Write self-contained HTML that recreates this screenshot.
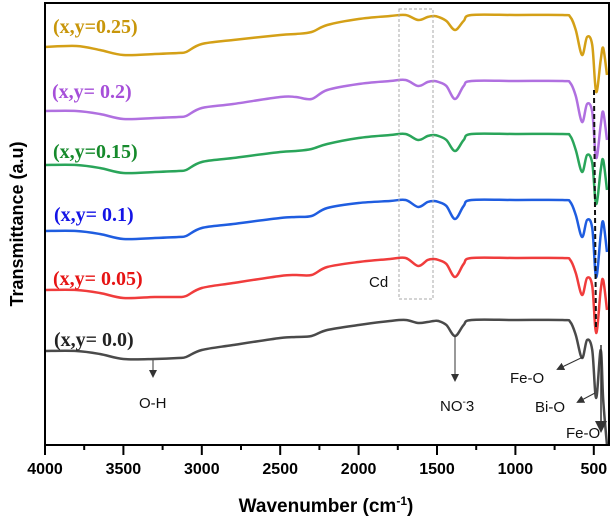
<!DOCTYPE html>
<html><head><meta charset="utf-8"><style>
body{margin:0;background:#fff}
svg{display:block}
</style></head><body>
<svg id="chart" width="611" height="519" xmlns="http://www.w3.org/2000/svg">
<defs><clipPath id="clip"><rect x="45" y="3" width="564" height="442"/></clipPath>
<marker id="ah" markerWidth="8" markerHeight="8" refX="6" refY="4" orient="auto"><path d="M0,0 L8,4 L0,8 z" fill="#333"/></marker></defs>
<g id="series" clip-path="url(#clip)"></g>
<rect x="45" y="3" width="564" height="442" fill="none" stroke="#000" stroke-width="2"/>
<g id="xticks"></g>
<text x="326" y="512" text-anchor="middle" font-family="Liberation Sans, sans-serif" font-weight="bold" font-size="19">Wavenumber (cm<tspan dy="-7" font-size="12">-1</tspan><tspan dy="7">)</tspan></text>
<text transform="translate(23,224) rotate(-90)" text-anchor="middle" font-family="Liberation Sans, sans-serif" font-weight="bold" font-size="18">Transmittance (a.u)</text>
<g font-family="Liberation Serif, serif" font-weight="bold" font-size="20">
<text x="53" y="33" fill="#c8960a">(x,y=0.25)</text>
<text x="52" y="98" fill="#a64fd9">(x,y= 0.2)</text>
<text x="53" y="158" fill="#168a2c">(x,y=0.15)</text>
<text x="54" y="221" fill="#1414e6">(x,y= 0.1)</text>
<text x="53" y="285" fill="#e61414">(x,y= 0.05)</text>
<text x="54" y="346" fill="#222">(x,y= 0.0)</text>
</g>
<rect x="399" y="9" width="34" height="290" fill="none" stroke="#aaa" stroke-dasharray="3,2"/>
<g font-family="Liberation Sans, sans-serif" font-size="15" fill="#111">
<text x="369" y="287">Cd</text>
<line x1="153" y1="360" x2="153" y2="376" stroke="#333" marker-end="url(#ah)"/>
<text x="139" y="408">O-H</text>
<line x1="455" y1="336" x2="455" y2="380" stroke="#333" marker-end="url(#ah)"/>
<text x="440" y="411">NO<tspan dy="-6" font-size="10">-</tspan><tspan dy="6">3</tspan></text>
<line x1="583" y1="357" x2="558" y2="369" stroke="#333" marker-end="url(#ah)"/>
<text x="510" y="383">Fe-O</text>
<line x1="595" y1="393" x2="578" y2="402" stroke="#333" marker-end="url(#ah)"/>
<text x="535" y="412">Bi-O</text>
<line x1="601" y1="345" x2="601" y2="430" stroke="#333" stroke-width="1.5" marker-end="url(#ah)"/>
<text x="566" y="438">Fe-O</text>
</g>
<line x1="594" y1="90" x2="596" y2="330" stroke="#111" stroke-width="2" stroke-dasharray="5,3"/>
</svg>
<script>
const wavenumbers=[4000,3800,3650,3500,3300,3150,3100,3000,2800,2500,2400,2300,2200,2000,1800,1700,1620,1560,1520,1490,1440,1385,1330,1280,1000,700,650,615,575,543,510,485,456,440,416];
const s025=[398,399,395,390,391,392,393,401,405,410,411,413,420,426,429,430,425,428,429,428,424,415,424,430,430,430,428,415,390,408,400,353,385,397,370];
const s020=[334,334,331,326,327,328,329,337,341,348,348,346,355,361,364,365,359,363,364,363,359,346,359,364,364,364,362,349,323,341,333,287,320,333,305];
const s015=[280,280,277,272,273,274,275,283,287,293,294,296,301,307,310,311,305,309,310,309,305,294,305,311,311,311,309,295,273,290,282,241,275,285,255];
const s010=[214,214,211,206,207,208,209,217,221,227,228,229,237,242,244,245,238,243,244,243,239,226,239,245,245,245,243,230,208,225,217,168,210,223,193];
const s005=[155,155,152,147,148,148,149,157,162,169,170,170,178,183,186,187,179,185,186,185,181,168,181,187,187,187,185,172,150,167,159,112,155,165,135];
const s000=[94,94,91,86,86,87,88,95,100,107,108,109,115,120,124,125,122,123,124,124,120,109,120,125,125,125,123,110,87,105,95,47,95,45,0];
const seriesNames=["0.0","0.05","0.1","0.15","0.2","0.25"];
const seriesColors=["#4a4a4a","#f03c3c","#1f5de0","#2aa55a","#b070e0","#d4a017"];
const tickValues=[4000,3500,3000,2500,2000,1500,1000,500];
const allSeries=[s000,s005,s010,s015,s020,s025];
const NS="http://www.w3.org/2000/svg";
function xScale(w){return 45+(4000-w)*0.1568;}
function yScale(v){return 445-v;}
function smoothPath(pts){let d="M"+pts[0][0]+","+pts[0][1];for(let i=0;i<pts.length-1;i++){const p0=pts[i-1]||pts[i],p1=pts[i],p2=pts[i+1],p3=pts[i+2]||p2;const c1x=p1[0]+(p2[0]-p0[0])/6,c1y=p1[1]+(p2[1]-p0[1])/6,c2x=p2[0]-(p3[0]-p1[0])/6,c2y=p2[1]-(p3[1]-p1[1])/6;d+=" C"+c1x+","+c1y+" "+c2x+","+c2y+" "+p2[0]+","+p2[1];}return d;}
const g=document.getElementById("series");
allSeries.forEach((s,i)=>{
  const p=document.createElementNS(NS,"path");
  p.setAttribute("d",smoothPath(wavenumbers.map((w,j)=>[xScale(w),yScale(s[j])])));
  p.setAttribute("fill","none");p.setAttribute("stroke",seriesColors[i]);p.setAttribute("stroke-width","2.5");
  
  
  g.appendChild(p);
});
const xt=document.getElementById("xticks");
for(let w=4000;w>=400;w-=250){
  const l=document.createElementNS(NS,"line");const x=xScale(w);const major=w%500===0;
  l.setAttribute("x1",x);l.setAttribute("x2",x);l.setAttribute("y1",445);l.setAttribute("y2",major?455:450);l.setAttribute("stroke","#000");l.setAttribute("stroke-width","2");
  
  
  xt.appendChild(l);
}
tickValues.forEach(w=>{
  const t=document.createElementNS(NS,"text");
  t.setAttribute("x",xScale(w));t.setAttribute("y",474);t.setAttribute("text-anchor","middle");
  t.setAttribute("font-family","Liberation Sans, sans-serif");t.setAttribute("font-weight","bold");t.setAttribute("font-size","16");
  t.textContent=w;
  
  
  xt.appendChild(t);
});
</script>
</body></html>
